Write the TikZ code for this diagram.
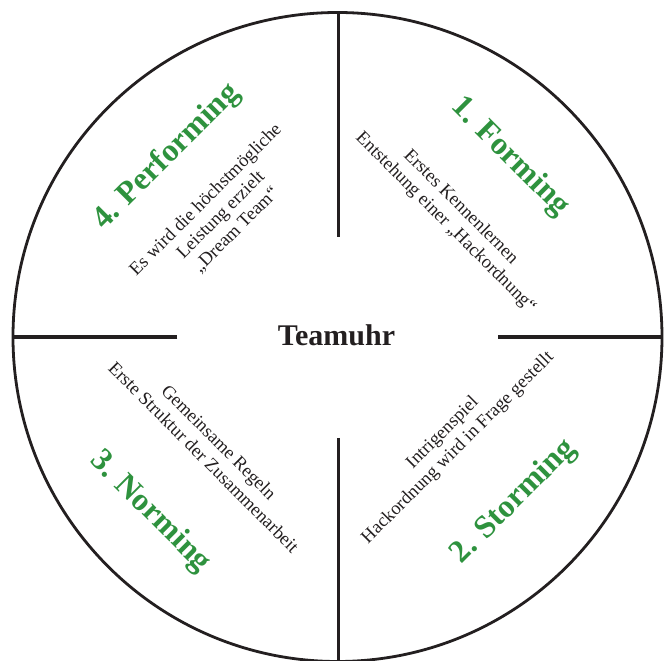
\documentclass[tikz,border=0pt]{standalone}
\usepackage{fontspec}
\setmainfont{Liberation Serif}
\definecolor{ink}{RGB}{35,31,32}
\definecolor{phase}{RGB}{46,146,62}
\tikzset{
  rim/.style={draw=ink, line width=2.8pt},
  spoke/.style={draw=ink, line width=3.8pt},
  phasetitle/.style={text=phase, font=\fontsize{32}{36}\selectfont\bfseries, inner sep=0pt},
  phasetext/.style={text=ink, font=\fontsize{18.5}{21.5}\selectfont, align=center, inner sep=0pt},
  hub/.style={text=ink, font=\fontsize{30}{34}\selectfont\bfseries, inner sep=0pt}
}
\begin{document}
\begin{tikzpicture}[x=1pt,y=1pt]
  \useasboundingbox (-337.5,-324) rectangle (327.5,337);
  % clock face
  \coordinate (c) at (0,0);
  \draw[rim] (c) circle[radius=324.5];
  % four spokes, leaving the centre free
  \coordinate (topIn) at (1,100);   \coordinate (topOut) at (1,324.5);
  \coordinate (botIn) at (1,-101);  \coordinate (botOut) at (1,-330);
  \coordinate (lftIn) at (-160,0);  \coordinate (lftOut) at (-324.5,0);
  \coordinate (rgtIn) at (161,0);   \coordinate (rgtOut) at (324.5,0);
  \draw[spoke] (topIn) -- (topOut);
  \draw[spoke] (botIn) -- (botOut);
  \draw[spoke] (lftIn) -- (lftOut);
  \draw[spoke] (rgtIn) -- (rgtOut);
  % centre
  \node[hub] (hub) at (-1,2) {Teamuhr};
  % phase 1
  \node[phasetitle, rotate=-45] (forming) at (172.5,180) {1. Forming};
  \node[phasetext, rotate=-45] (formingtext) at (115.5,122)
    {Erstes Kennenlernen\\Entstehung einer „Hackordnung“};
  % phase 2
  \node[phasetitle, rotate=45] (storming) at (176.5,-165) {2. Storming};
  \node[phasetext, rotate=45] (stormingtext) at (113,-103.5)
    {Intrigenspiel\\Hackordnung wird in Frage gestellt};
  % phase 3
  \node[phasetitle, rotate=-45] (norming) at (-187.5,-175) {3. Norming};
  \node[phasetext, rotate=-45] (normingtext) at (-126,-112.5)
    {Gemeinsame Regeln\\Erste Struktur der Zusammenarbeit};
  % phase 4
  \node[phasetitle, rotate=45] (performing) at (-170.5,180) {4. Performing};
  \node[phasetext, rotate=45] (performingtext) at (-116.5,122)
    {Es wird die höchstmögliche\\Leistung erzielt\\„Dream Team“};
\end{tikzpicture}
\end{document}
